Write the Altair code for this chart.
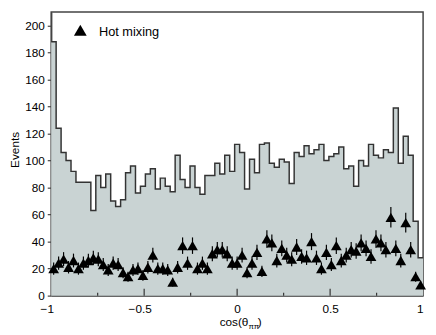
import altair as alt
import pandas as pd

# histogram (all events), 75 bins over cos(theta) in [-1, 1]
hist_counts = [188, 124, 106, 100, 92, 84, 84, 84, 63, 89, 80, 90, 70, 66, 71, 91, 96, 76, 81,
               90, 94, 79, 87, 81, 77, 104, 86, 80, 96, 80, 75, 89, 89, 98, 90, 104, 92, 112,
               106, 79, 101, 91, 112, 113, 98, 95, 101, 99, 83, 106, 103, 111, 105, 108, 112, 100, 103,
               105, 110, 94, 96, 81, 100, 96, 112, 104, 102, 108, 106, 139, 98, 118, 104, 55, 28]

# hot-mixing points (one per bin) and their error half-widths
mix_counts = [20, 24, 27, 21, 26, 20, 24, 26, 28, 27, 23, 19, 24, 23, 17, 14, 19, 20, 15,
              21, 30, 20, 20, 19, 10, 21, 37, 24, 37, 20, 24, 20, 31, 34, 34, 31, 24, 24,
              30, 17, 24, 32, 18, 42, 39, 26, 35, 30, 27, 36, 29, 28, 40, 28, 20, 32, 23,
              37, 26, 30, 34, 33, 39, 35, 29, 42, 39, 34, 58, 35, 26, 54, 34, 14, 8]
mix_errors = [4.5, 4.9, 5.2, 4.6, 5.1, 4.5, 4.9, 5.1, 5.3, 5.2, 4.8, 4.4, 4.9, 4.8, 4.1, 3.7, 4.4, 4.5, 3.9,
              4.6, 5.5, 4.5, 4.5, 4.4, 3.2, 4.6, 6.1, 4.9, 6.1, 4.5, 4.9, 4.5, 5.6, 5.8, 5.8, 5.6, 4.9, 4.9,
              5.5, 4.1, 4.9, 5.7, 4.2, 6.5, 6.2, 5.1, 5.9, 5.5, 5.2, 6.0, 5.4, 5.3, 6.3, 5.3, 4.5, 5.7, 4.8,
              6.1, 5.1, 5.5, 5.8, 5.7, 6.2, 5.9, 5.4, 6.5, 6.2, 5.8, 7.6, 5.9, 5.1, 7.3, 5.8, 3.7, 2.8]

x_tick_values = [-1, -0.5, 0, 0.5, 1]
x_major_inner = [-0.5, 0, 0.5]
x_minor_inner = [-0.75, -0.25, 0.25, 0.75]
y_tick_values = [0, 20, 40, 60, 80, 100, 120, 140, 160, 180, 200]
legend_label = ["Hot mixing"]

N = len(hist_counts)
edges = [-1 + i * 2 / N for i in range(N + 1)]
step_df = pd.DataFrame({"x": edges, "count": hist_counts + [hist_counts[-1]]})
pts_df = pd.DataFrame({
    "x": [(edges[i] + edges[i + 1]) / 2 for i in range(N)],
    "n": mix_counts,
    "lo": [m - e for m, e in zip(mix_counts, mix_errors)],
    "hi": [m + e for m, e in zip(mix_counts, mix_errors)],
})

W, H = 379, 289
FONT = "Liberation Sans"
xs = alt.Scale(domain=[-1, 1], nice=False, zero=False)
ys = alt.Scale(domain=[0, 210], nice=False)

x_axis = alt.Axis(values=x_tick_values, format="~g", ticks=False, tickSize=0, labelPadding=8,
                  labelFlush=False, labelOverlap=False, grid=False, title=None,
                  labelAlign={"condition": {"test": "datum.value == 1", "value": "right"}, "value": "center"},
                  labelOffset={"condition": {"test": "datum.value < 0", "value": -4.5}, "value": 0})
y_axis = alt.Axis(values=y_tick_values, tickSize=4, labelPadding=3, labelOverlap=False, grid=False,
                  title="Events", titleX=-30, titleY=140)

X_ = lambda f: alt.X(f, scale=xs, axis=x_axis)
Y_ = lambda f: alt.Y(f, scale=ys, axis=y_axis)

base = alt.Chart(step_df)
fill = base.mark_area(interpolate="step-after", color="#c9d3d3", opacity=1).encode(
    x=X_("x:Q"), y=Y_("count:Q")
)
outline = base.mark_line(interpolate="step-after", color="#333333", strokeWidth=1.5).encode(
    x=X_("x:Q"), y=Y_("count:Q")
)

errs = alt.Chart(pts_df).mark_rule(color="black", strokeWidth=1.2).encode(
    x=X_("x:Q"), y=Y_("lo:Q"), y2="hi:Q"
)
tris = alt.Chart(pts_df).mark_point(shape="triangle-up", filled=True, color="black",
                                    size=120, opacity=1).encode(
    x=X_("x:Q"), y=Y_("n:Q")
)

major = alt.Chart(pd.DataFrame({"v": x_major_inner})).mark_rule(color="#333333", strokeWidth=1.2).encode(
    x=X_("v:Q"), y=alt.value(H - 7), y2=alt.value(H)
)
minor = alt.Chart(pd.DataFrame({"v": x_minor_inner})).mark_rule(color="#333333", strokeWidth=1.2).encode(
    x=X_("v:Q"), y=alt.value(H - 3), y2=alt.value(H)
)

leg_df = pd.DataFrame({"label": legend_label})
leg_sym = alt.Chart(leg_df).mark_point(shape="triangle-up", filled=True, color="black",
                                       size=169, opacity=1).encode(
    x=alt.value(29.7), y=alt.value(18.5)
)
leg_txt = alt.Chart(leg_df).mark_text(align="left", baseline="middle", font=FONT, fontSize=13,
                                      color="black").encode(
    x=alt.value(48.7), y=alt.value(20), text="label:N"
)

title_df = pd.DataFrame({"a": ["cos(θ"], "b": ["ππ"], "c": [")"]})
t_a = alt.Chart(title_df).mark_text(align="right", baseline="alphabetic", font=FONT, fontSize=12,
                                    color="black").encode(x=alt.value(201), y=alt.value(320), text="a:N")
t_b = alt.Chart(title_df).mark_text(align="left", baseline="alphabetic", font=FONT, fontSize=8,
                                    color="black").encode(x=alt.value(201), y=alt.value(322.5), text="b:N")
t_c = alt.Chart(title_df).mark_text(align="left", baseline="alphabetic", font=FONT, fontSize=12,
                                    color="black").encode(x=alt.value(210.5), y=alt.value(320), text="c:N")

chart = alt.layer(fill, outline, errs, tris, major, minor, leg_sym, leg_txt, t_a, t_b, t_c).properties(
    width=W, height=H,
    autosize=alt.AutoSizeParams(type="none"),
    padding={"left": 44, "top": 1, "right": 5, "bottom": 36},
).configure_view(
    stroke="#444444", strokeWidth=1.5
).configure_axis(
    labelFont=FONT, titleFont=FONT, labelFontSize=12, titleFontSize=12, titleFontWeight="normal",
    labelColor="black", titleColor="black", domainColor="#444444", domainWidth=1.5,
    tickColor="#444444", tickWidth=1.2
)

chart.save("out.html", embed_options={"renderer": "svg", "actions": False})
